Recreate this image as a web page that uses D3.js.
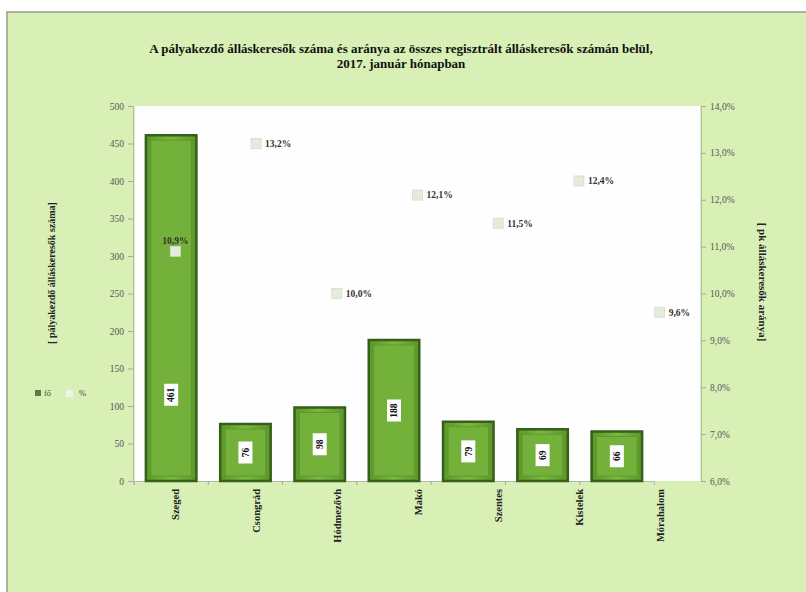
<!DOCTYPE html>
<html>
<head>
<meta charset="utf-8">
<script src="https://cdn.jsdelivr.net/npm/d3@7"></script>
<style>
  body { margin: 0; background: #fff; }
  svg { display: block; font-family: "Liberation Serif", "Times New Roman", serif; }
</style>
</head>
<body>
<svg id="chart" width="806" height="592"></svg>
<script>
// data
const categories = ["Szeged", "Csongrád", "Hódmezővh", "Makó", "Szentes", "Kistelek", "Mórahalom"];
const persons = [461, 76, 98, 188, 79, 69, 66];
const shares = [10.9, 13.2, 10.0, 12.1, 11.5, 12.4, 9.6];
const leftTicks = [0, 50, 100, 150, 200, 250, 300, 350, 400, 450, 500];
const rightTicks = [6, 7, 8, 9, 10, 11, 12, 13, 14];
const titleLines = [
  "A pályakezdő álláskeresők száma és aránya az összes regisztrált álláskeresők számán belül,",
  "2017. január hónapban"
];

const svg = d3.select("#chart");
const fmtPct = d => d.toFixed(1).replace(".", ",") + "%";

// background panel
svg.append("rect").attr("x", 7).attr("y", 12).attr("width", 806).attr("height", 592)
  .attr("fill", "#d8f0b5").attr("stroke", "#9a9a8a").attr("stroke-width", 1.5);

var plot = { left: 135, right: 700, top: 106, bottom: 481 };

svg.append("rect")
  .attr("x", plot.left).attr("y", plot.top)
  .attr("width", plot.right - plot.left).attr("height", plot.bottom - plot.top)
  .attr("fill", "#fefefe");

// bars sit on a narrower band than the points (as in the original)
var xBar = d3.scaleBand().domain(categories).range([134, 654]).paddingInner(0.32).paddingOuter(0.16);
var xPt = d3.scaleBand().domain(categories).range([plot.left, plot.right]);
var y = d3.scaleLinear().domain([0, 500]).range([plot.bottom, plot.top]);
var y2 = d3.scaleLinear().domain([6, 14]).range([plot.bottom, plot.top]);

// title
svg.append("g").selectAll("text").data(titleLines).join("text")
  .attr("x", 401).attr("y", (d, i) => 53 + i * 15)
  .attr("text-anchor", "middle")
  .attr("font-size", 13).attr("font-weight", "bold").attr("fill", "#111")
  .text(d => d);

// axes
const gl = svg.append("g").attr("transform", `translate(${plot.left - 2},0)`)
  .call(d3.axisLeft(y).tickValues(leftTicks).tickSize(5).tickPadding(4));
const gr = svg.append("g").attr("transform", `translate(${plot.right + 1},0)`)
  .call(d3.axisRight(y2).tickValues(rightTicks).tickSize(5).tickPadding(4).tickFormat(fmtPct));
const gb = svg.append("g").attr("transform", `translate(0,${plot.bottom})`)
  .call(d3.axisBottom(xBar).tickSize(4).tickFormat(""));
gb.selectAll(".tick line").attr("transform", `translate(${-xBar.step() / 2},0)`);

[gl, gr, gb].forEach(g => {
  g.select(".domain").attr("stroke", "#b8b8b0");
  g.selectAll(".tick line").attr("stroke", "#a8a8a0");
  g.selectAll(".tick text").attr("font-size", 9.5).attr("fill", "#555")
    .attr("font-family", "Liberation Serif, serif");
});

// category labels, rotated
svg.append("g").selectAll("text").data(categories).join("text")
  .attr("transform", d => `translate(${xPt(d) + xPt.bandwidth() / 2 + 4},${plot.bottom + 8}) rotate(-90)`)
  .attr("text-anchor", "end")
  .attr("font-size", 10.5).attr("font-weight", "bold").attr("fill", "#222")
  .text(d => d);

// bar gradient
const defs = svg.append("defs");
const grad = defs.append("linearGradient").attr("id", "barg").attr("x1", 0).attr("x2", 1);
grad.append("stop").attr("offset", "0%").attr("stop-color", "#5b962a");
grad.append("stop").attr("offset", "50%").attr("stop-color", "#7ab842");
grad.append("stop").attr("offset", "100%").attr("stop-color", "#5b962a");

const bars = svg.append("g").selectAll("g").data(categories).join("g");
bars.append("rect")
  .attr("x", d => xBar(d))
  .attr("y", (d, i) => y(persons[i]))
  .attr("width", xBar.bandwidth())
  .attr("height", (d, i) => y(0) - y(persons[i]))
  .attr("fill", "url(#barg)")
  .attr("stroke", "#365f17").attr("stroke-width", 2.5);
bars.append("rect")
  .attr("x", d => xBar(d) + 5)
  .attr("y", (d, i) => y(persons[i]) + 5)
  .attr("width", xBar.bandwidth() - 10)
  .attr("height", (d, i) => y(0) - y(persons[i]) - 10)
  .attr("fill", "#74b13b")
  .attr("stroke", "#5d9a2c").attr("stroke-width", 1);

// value labels inside bars
const labY = (v) => Math.min(Math.max(y(v / 2), y(115)), y(0) - 20);
const vl = bars.append("g")
  .attr("transform", (d, i) => `translate(${xBar(d) + xBar.bandwidth() / 2},${labY(persons[i])}) rotate(-90)`);
vl.append("rect").attr("x", -11).attr("y", -7).attr("width", 22).attr("height", 14)
  .attr("fill", "#fff");
vl.append("text").attr("text-anchor", "middle").attr("dy", "0.35em")
  .attr("font-size", 9.5).attr("font-weight", "bold").attr("fill", "#111")
  .text((d, i) => persons[i]);

// percentage markers
const pts = svg.append("g").selectAll("g").data(categories).join("g")
  .attr("transform", (d, i) => `translate(${xPt(d) + xPt.bandwidth() / 2},${y2(shares[i])})`);
pts.append("rect").attr("x", -5).attr("y", -5).attr("width", 10).attr("height", 10)
  .attr("fill", "#e6ecdc").attr("stroke", "#d4dccb").attr("stroke-width", 0.8);
pts.append("text")
  .attr("x", (d, i) => i === 0 ? 0 : 9)
  .attr("y", (d, i) => i === 0 ? -11 : 0)
  .attr("dy", "0.35em")
  .attr("text-anchor", (d, i) => i === 0 ? "middle" : "start")
  .attr("font-size", 9.5).attr("font-weight", "bold").attr("fill", "#333")
  .text((d, i) => fmtPct(shares[i]));

// axis titles
svg.append("text")
  .attr("transform", "translate(55,273) rotate(-90)")
  .attr("text-anchor", "middle").attr("font-size", 10).attr("font-weight", "bold").attr("fill", "#222")
  .text("[ pályakezdő álláskeresők száma]");
svg.append("text")
  .attr("transform", "translate(759,282) rotate(90)")
  .attr("text-anchor", "middle").attr("font-size", 11).attr("font-weight", "bold").attr("fill", "#222")
  .text("[ pk álláskeresők aránya]");

// legend
const lg = svg.append("g").attr("transform", "translate(35,393)");
lg.append("rect").attr("x", 0).attr("y", -3).attr("width", 6).attr("height", 6).attr("fill", "#5b7a48");
lg.append("text").attr("x", 9).attr("dy", "0.35em").attr("font-size", 8.5).attr("fill", "#444").text("fő");
lg.append("rect").attr("x", 31).attr("y", -3).attr("width", 7).attr("height", 7).attr("fill", "#eef2ea");
lg.append("text").attr("x", 44).attr("dy", "0.35em").attr("font-size", 8.5).attr("fill", "#444").text("%");
</script>
</body>
</html>
